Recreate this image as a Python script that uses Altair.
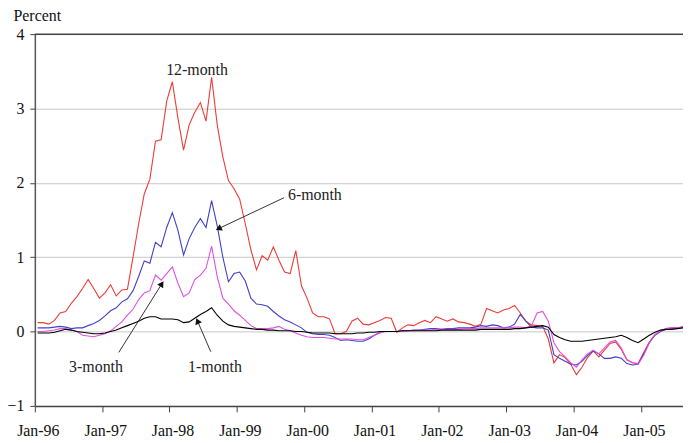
import json
import altair as alt
import pandas as pd

# ---------------- data (monthly, Jan-96 .. Aug-05) ----------------
year_labels = ["Jan-96", "Jan-97", "Jan-98", "Jan-99", "Jan-00",
               "Jan-01", "Jan-02", "Jan-03", "Jan-04", "Jan-05"]
series_names = ["12-month", "6-month", "3-month", "1-month"]
series_colors = ["#ee3b36", "#4040c8", "#e050e0", "#000000"]

m12 = [0.12, 0.12, 0.10, 0.15, 0.25, 0.27, 0.38, 0.47, 0.58, 0.70, 0.58, 0.45,
       0.52, 0.63, 0.48, 0.56, 0.57, 1.00, 1.45, 1.85, 2.05, 2.56, 2.58, 3.10,
       3.36, 2.87, 2.44, 2.78, 2.95, 3.08, 2.83, 3.42, 2.78, 2.35, 2.03, 1.92,
       1.78, 1.45, 1.10, 0.83, 1.02, 0.96, 1.14, 0.96, 0.80, 0.78, 1.09, 0.62,
       0.45, 0.25, 0.20, 0.20, 0.17, -0.03, -0.03, 0.00, 0.14, 0.18, 0.10, 0.09,
       0.12, 0.15, 0.19, 0.18, -0.01, 0.05, 0.09, 0.08, 0.12, 0.15, 0.12, 0.20,
       0.17, 0.14, 0.17, 0.13, 0.12, 0.10, 0.07, 0.10, 0.31, 0.28, 0.25, 0.29,
       0.31, 0.35, 0.25, 0.14, 0.09, 0.08, 0.07, -0.10, -0.42, -0.31, -0.35, -0.44,
       -0.58, -0.48, -0.35, -0.26, -0.34, -0.25, -0.16, -0.14, -0.24, -0.38, -0.42, -0.43,
       -0.28, -0.14, -0.04, 0.01, 0.04, 0.05, 0.05, 0.06]

m6 = [0.05, 0.05, 0.05, 0.06, 0.07, 0.06, 0.04, 0.05, 0.05, 0.08, 0.11, 0.15,
      0.21, 0.28, 0.32, 0.40, 0.44, 0.55, 0.74, 0.95, 0.92, 1.20, 1.14, 1.40,
      1.60, 1.36, 1.03, 1.25, 1.40, 1.52, 1.40, 1.76, 1.42, 1.00, 0.67, 0.78,
      0.80, 0.68, 0.45, 0.37, 0.36, 0.34, 0.27, 0.21, 0.16, 0.13, 0.09, 0.05,
      -0.01, -0.03, -0.04, -0.04, -0.05, -0.08, -0.12, -0.11, -0.12, -0.13, -0.13, -0.10,
      -0.05, -0.01, 0.00, 0.00, 0.00, 0.01, 0.01, 0.02, 0.02, 0.03, 0.04, 0.04,
      0.03, 0.04, 0.04, 0.05, 0.05, 0.05, 0.06, 0.08, 0.07, 0.09, 0.08, 0.05,
      0.06, 0.10, 0.23, 0.14, 0.06, 0.05, 0.05, 0.02, -0.31, -0.36, -0.40, -0.44,
      -0.45, -0.40, -0.32, -0.26, -0.30, -0.36, -0.36, -0.34, -0.36, -0.43, -0.45, -0.44,
      -0.30, -0.15, -0.05, 0.00, 0.03, 0.04, 0.05, 0.06]

m3 = [0.00, 0.00, 0.01, 0.02, 0.04, 0.04, 0.02, 0.00, -0.05, -0.06, -0.07, -0.05,
      -0.03, 0.01, 0.07, 0.13, 0.22, 0.30, 0.43, 0.52, 0.55, 0.76, 0.69, 0.78,
      0.87, 0.65, 0.47, 0.52, 0.70, 0.76, 0.85, 1.15, 0.74, 0.45, 0.37, 0.28,
      0.22, 0.15, 0.08, 0.04, 0.04, 0.04, 0.05, 0.07, 0.03, 0.01, -0.02, -0.05,
      -0.07, -0.08, -0.08, -0.08, -0.09, -0.10, -0.10, -0.10, -0.10, -0.11, -0.11, -0.08,
      -0.05, -0.02, 0.00, 0.00, 0.00, 0.00, 0.01, 0.01, 0.02, 0.02, 0.02, 0.03,
      0.03, 0.03, 0.03, 0.03, 0.04, 0.04, 0.04, 0.05, 0.05, 0.05, 0.05, 0.05,
      0.05, 0.06, 0.06, 0.05, 0.08, 0.25, 0.27, 0.14, -0.15, -0.27, -0.34, -0.42,
      -0.48, -0.38, -0.30, -0.25, -0.30, -0.22, -0.14, -0.12, -0.22, -0.38, -0.42, -0.44,
      -0.32, -0.15, -0.04, 0.01, 0.04, 0.05, 0.05, 0.06]

m1 = [-0.02, -0.02, -0.02, -0.01, 0.01, 0.03, 0.02, 0.00, -0.01, -0.02, -0.03, -0.03,
      -0.02, 0.00, 0.02, 0.05, 0.08, 0.11, 0.14, 0.18, 0.20, 0.20, 0.17, 0.17,
      0.17, 0.16, 0.12, 0.13, 0.18, 0.23, 0.27, 0.32, 0.22, 0.14, 0.09, 0.07,
      0.06, 0.05, 0.04, 0.03, 0.03, 0.02, 0.02, 0.01, 0.01, 0.01, 0.00, 0.00,
      -0.01, -0.02, -0.02, -0.02, -0.02, -0.03, -0.03, -0.03, -0.03, -0.02, -0.02, -0.01,
      -0.01, 0.00, 0.00, 0.00, 0.00, 0.01, 0.01, 0.01, 0.01, 0.01, 0.01, 0.01,
      0.02, 0.02, 0.02, 0.02, 0.02, 0.02, 0.02, 0.03, 0.03, 0.03, 0.03, 0.03,
      0.03, 0.04, 0.04, 0.05, 0.06, 0.07, 0.08, 0.06, -0.04, -0.08, -0.11, -0.13,
      -0.13, -0.13, -0.12, -0.11, -0.10, -0.09, -0.08, -0.07, -0.05, -0.08, -0.12, -0.15,
      -0.10, -0.05, -0.01, 0.02, 0.03, 0.03, 0.04, 0.05]

# annotations (x in month index from Jan-96, y in percent)
label_text = ["12-month", "3-month", "1-month"]
label_m = [28.4, 10.4, 31.6]
label_v = [3.52, -0.48, -0.48]
left_label_text = ["6-month"]
left_label_m = [44.6]
left_label_v = [1.83]

arrow_from_m = [43.9, 14.46, 30.84]
arrow_from_v = [1.80, -0.28, -0.27]
arrow_to_m = [32.4, 22.03, 28.55]
arrow_to_v = [1.39, 0.63, 0.13]
arrow_angle = [244.5, 32.3, 336.6]

# ---------------- build tables ----------------
all_vals = [m12, m6, m3, m1]
rows = []
for name, vals in zip(series_names, all_vals):
    for i, v in enumerate(vals):
        rows.append({"m": i, "v": v, "s": name})
df = pd.DataFrame(rows)

df_lab = pd.DataFrame({"m": label_m, "v": label_v, "t": label_text})
df_lab2 = pd.DataFrame({"m": left_label_m, "v": left_label_v, "t": left_label_text})
df_arr = pd.DataFrame({"m": arrow_from_m, "v": arrow_from_v,
                       "m2": arrow_to_m, "v2": arrow_to_v, "ang": arrow_angle})
df_top = pd.DataFrame({"v": [4]})

FONT = "Liberation Serif"
FS = 16
n = len(m12)
tick_vals = [-0.5 + 6 * k for k in range(0, 20)]
label_expr = ("(datum.value + 0.5) % 12 == 0 ? " + json.dumps(year_labels)
              + "[round((datum.value + 0.5) / 12)] : ''")

x_scale = alt.Scale(domain=[-0.5, n - 1], nice=False, zero=False)
y_scale = alt.Scale(domain=[-1, 4], nice=False, zero=False)

x_axis = alt.Axis(values=tick_vals, labelExpr=label_expr, grid=False, title=None,
                  tickSize=6, tickColor="#444", domainColor="#444", domainWidth=1.5,
                  labelFont=FONT, labelFontSize=FS, labelColor="#111",
                  labelPadding=11, labelOffset=3, labelOverlap=False, labelFlush=False)
y_axis = alt.Axis(values=[-1, 0, 1, 2, 3, 4], format="d", grid=True, gridColor="#c8c8c8",
                  tickSize=5, tickColor="#444", domainColor="#555", domainWidth=1.5,
                  labelFont=FONT, labelFontSize=FS, labelColor="#111", labelPadding=6,
                  title="Percent", titleAngle=0, titleX=-22, titleY=-14,
                  titleAlign="left", titleBaseline="alphabetic", titleFont=FONT,
                  titleFontSize=FS, titleFontWeight="normal", titleColor="#111")

lines = alt.Chart(df).mark_line(clip=False).encode(
    x=alt.X("m:Q", scale=x_scale, axis=x_axis),
    y=alt.Y("v:Q", scale=y_scale, axis=y_axis),
    color=alt.Color("s:N", scale=alt.Scale(domain=series_names, range=series_colors), legend=None),
    strokeWidth=alt.StrokeWidth("s:N", scale=alt.Scale(domain=series_names, range=[1.1, 1.1, 1.1, 2.6]), legend=None),
    order=alt.Order("m:Q"),
)

top_rule = alt.Chart(df_top).mark_rule(color="#444", strokeWidth=1.5).encode(
    y=alt.Y("v:Q", scale=y_scale)
)

texts = alt.Chart(df_lab).mark_text(font=FONT, fontSize=FS, color="#222",
                                    baseline="middle", align="center").encode(
    x=alt.X("m:Q", scale=x_scale),
    y=alt.Y("v:Q", scale=y_scale),
    text="t:N",
)
texts2 = alt.Chart(df_lab2).mark_text(font=FONT, fontSize=FS, color="#222",
                                      baseline="middle", align="left").encode(
    x=alt.X("m:Q", scale=x_scale),
    y=alt.Y("v:Q", scale=y_scale),
    text="t:N",
)

arrows = alt.Chart(df_arr).mark_rule(color="#333", strokeWidth=1).encode(
    x=alt.X("m:Q", scale=x_scale), y=alt.Y("v:Q", scale=y_scale),
    x2="m2:Q", y2="v2:Q",
)
heads = alt.Chart(df_arr).mark_point(shape="triangle", filled=True, size=50, color="#111", opacity=1).encode(
    x=alt.X("m2:Q", scale=x_scale), y=alt.Y("v2:Q", scale=y_scale),
    angle=alt.Angle("ang:Q", scale=None),
)

chart = alt.layer(lines, top_rule, texts, texts2, arrows, heads).properties(
    width=652, height=374,
    background="white",
    autosize=alt.AutoSizeParams(type="none"),
    padding={"left": 27, "top": 25, "right": 0, "bottom": 36},
).configure_view(stroke=None)

chart.save("out.html", embed_options={"renderer": "svg", "actions": False})
